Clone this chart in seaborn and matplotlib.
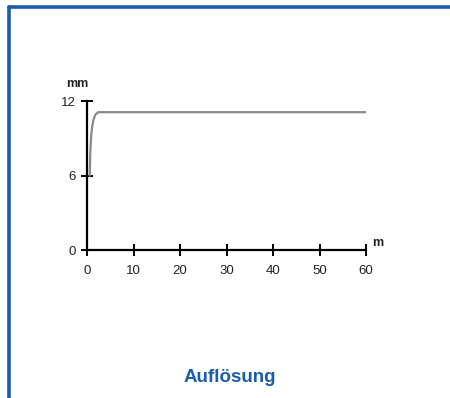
import matplotlib
matplotlib.use("Agg")
import matplotlib.pyplot as plt
import pandas as pd
import seaborn as sns
from matplotlib.lines import Line2D

# Curve: fast rise from 6 mm, then flat near 11 mm
DIST_M = [0.6, 0.7, 0.9, 1.1, 1.4, 1.8, 2.4, 60]
HEIGHT_MM = [6.0, 7.8, 9.2, 9.9, 10.5, 10.9, 11.1, 11.1]
X_TICKS = [0, 10, 20, 30, 40, 50, 60]
Y_TICKS = [0, 6, 12]
TITLE = "Auflösung"

BLUE = "#1c5cae"
CURVE_GRAY = "#8a8a8a"

sns.set_theme(style="white")
plt.rcParams["font.family"] = ["Liberation Sans", "DejaVu Sans"]

df = pd.DataFrame({"m": DIST_M, "mm": HEIGHT_MM})

fig = plt.figure(figsize=(4.5, 3.98), dpi=100)
ax = fig.add_axes([87 / 450, 1 - 250 / 398, (366 - 87) / 450, (250 - 101) / 398])

sns.lineplot(data=df, x="m", y="mm", ax=ax, color=CURVE_GRAY, linewidth=1.6,
             estimator=None, sort=False)

ax.set_xlim(0, 60)
ax.set_ylim(0, 12)
ax.set_xticks(X_TICKS)
ax.set_yticks(Y_TICKS)
ax.set_xlabel("")
ax.set_ylabel("")
for side in ["top", "right"]:
    ax.spines[side].set_visible(False)
for side in ["left", "bottom"]:
    ax.spines[side].set_color("black")
    ax.spines[side].set_linewidth(1.6)
ax.tick_params(axis="both", direction="inout", length=8, width=1.4,
               bottom=True, left=True, colors="black",
               labelsize=9.5, labelcolor="#222222")
ax.tick_params(axis="x", pad=7)
ax.tick_params(axis="y", pad=4)
ax.patch.set_alpha(0)

# axis unit labels
fig.text(77 / 450, 1 - 84 / 398, "mm", ha="center", va="center",
         fontsize=9, fontweight="bold", color="#222222")
fig.text(378 / 450, 1 - 243 / 398, "m", ha="center", va="center",
         fontsize=9, fontweight="bold", color="#222222")

# title
fig.text(230 / 450, 1 - 378 / 398, TITLE, ha="center", va="center",
         fontsize=13.5, fontweight="bold", color=BLUE)

# blue frame (top and left edges)
fig.add_artist(Line2D([9 / 450, 1.0], [1 - 7 / 398, 1 - 7 / 398],
                      transform=fig.transFigure, color=BLUE, linewidth=2.6))
fig.add_artist(Line2D([9 / 450, 9 / 450], [0.0, 1 - 7 / 398],
                      transform=fig.transFigure, color=BLUE, linewidth=2.6))

fig.savefig("out.png", dpi=100)
plt.close(fig)
